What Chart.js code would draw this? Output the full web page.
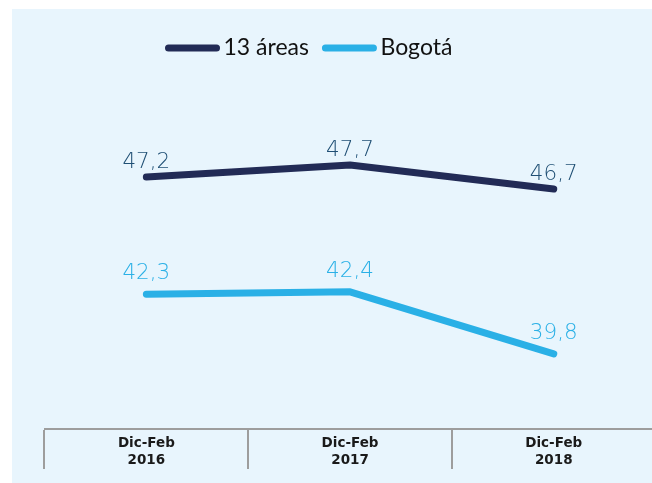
<!DOCTYPE html>
<html>
<head>
<meta charset="utf-8">
<script src="https://cdn.jsdelivr.net/npm/chart.js@4.4.1/dist/chart.umd.min.js"></script>
<style>
html,body{margin:0;padding:0;background:#fff;overflow:hidden;}
#wrap{width:652px;height:483px;overflow:hidden;position:relative;}
</style>
</head>
<body>
<div id="wrap"><canvas id="myChart" width="662" height="483"></canvas></div>
<script>
const periods = [['Dic-Feb','2016'],['Dic-Feb','2017'],['Dic-Feb','2018']];
const seriesNames = ['13 áreas','Bogotá'];
const areas13 = [47.2, 47.7, 46.7];
const bogota = [42.3, 42.4, 39.8];

// light blue panel behind the chart
const panel = {
  id:'panel',
  beforeDraw(chart){
    const ctx=chart.ctx;
    ctx.save();
    ctx.fillStyle='#e8f5fd';
    ctx.fillRect(12,9,chart.width-12,chart.height-9);
    ctx.restore();
  }
};

// values above each point, decimal comma
const valueLabels = {
  id:'valueLabels',
  afterDatasetsDraw(chart){
    const ctx=chart.ctx;
    ctx.save();
    ctx.font='200 21.5px "DejaVu Sans"';
    ctx.textAlign='center';
    ctx.textBaseline='alphabetic';
    chart.data.datasets.forEach((ds,i)=>{
      const meta=chart.getDatasetMeta(i);
      ctx.fillStyle=ds.labelColor;
      meta.data.forEach((pt,j)=>{
        ctx.fillText(ds.data[j].toFixed(1).replace('.',','), pt.x, pt.y-ds.labelGap);
      });
    });
    ctx.restore();
  }
};

// legend with thick line samples, placed like the original
const lineLegend = {
  id:'lineLegend',
  afterDraw(chart){
    const ctx=chart.ctx;
    ctx.save();
    ctx.font='23px Lato';
    ctx.textBaseline='alphabetic';
    let x=168.5;
    chart.data.datasets.forEach(ds=>{
      ctx.strokeStyle=ds.borderColor;
      ctx.lineWidth=7;
      ctx.lineCap='round';
      ctx.beginPath();
      ctx.moveTo(x,48);
      ctx.lineTo(x+48,48);
      ctx.stroke();
      x+=48+7;
      ctx.fillStyle='#111';
      ctx.fillText(ds.label,x,54.5);
      x+=ctx.measureText(ds.label).width+16.5;
    });
    ctx.restore();
  }
};

const ctx=document.getElementById('myChart').getContext('2d');
const myChart=new Chart(ctx,{
  type:'line',
  data:{
    labels:periods,
    datasets:[
      {
        label:seriesNames[0],
        data:areas13,
        borderColor:'#222b56',
        borderWidth:7,
        borderCapStyle:'round',
        borderJoinStyle:'round',
        pointRadius:0,
        tension:0,
        labelColor:'#1f4f74',
        labelGap:9
      },
      {
        label:seriesNames[1],
        data:bogota,
        borderColor:'#2ab0e6',
        borderWidth:7,
        borderCapStyle:'round',
        borderJoinStyle:'round',
        pointRadius:0,
        tension:0,
        labelColor:'#2ab0e6',
        labelGap:15
      }
    ]
  },
  options:{
    responsive:false,
    animation:false,
    layout:{
      padding:{left:44.5,right:6.4,top:80,bottom:0}
    },
    scales:{
      x:{
        offset:true,
        grid:{
          offset:true,
          drawOnChartArea:false,
          drawTicks:true,
          tickLength:40,
          color:'#9d9d9d',
          lineWidth:2
        },
        border:{display:true,color:'#9d9d9d',width:2},
        ticks:{
          color:'#1a1a1a',
          padding:-33.25,
          maxRotation:0,
          autoSkip:false,
          font:{family:'DejaVu Sans',weight:'bold',size:13.5,lineHeight:1.2}
        },
        afterFit(scale){ scale.height=54; }
      },
      y:{
        display:false,
        min:36.66,
        max:51.26
      }
    },
    plugins:{
      legend:{display:false},
      tooltip:{enabled:false}
    }
  },
  plugins:[panel,valueLabels,lineLegend]
});
</script>
</body>
</html>
